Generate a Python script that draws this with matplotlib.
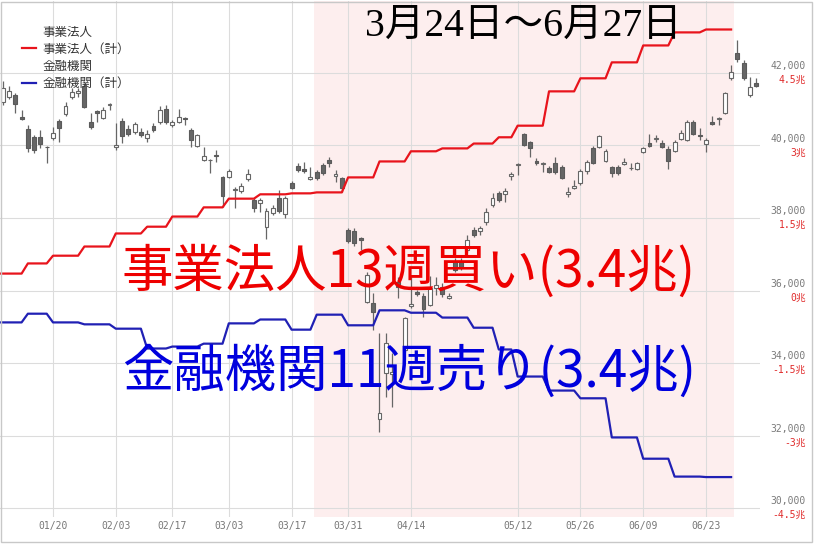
import numpy as np
import pandas as pd
import matplotlib
matplotlib.use("Agg")
import matplotlib.pyplot as plt
from matplotlib.lines import Line2D
from matplotlib.patches import Rectangle

plt.rcParams["font.family"] = ["Noto Sans CJK JP", "DejaVu Sans"]

# Tokyo market days shown (holidays skipped, candles sit on a trading-day index)
jp_holidays = ["2025-01-13", "2025-02-11", "2025-02-24", "2025-03-20",
               "2025-04-29", "2025-05-05", "2025-05-06"]
days = pd.bdate_range("2025-01-06", "2025-07-03", freq="C", holidays=jp_holidays)

# daily candles from 2025-01-07 onward
opens = [41200, 41340, 41390, 40790, 40460, 40240, 40240, 39970, 40210, 40680,
         40870, 41340, 41460, 41640, 40650, 40940, 40760, 41120, 39970, 40680,
         40460, 40370, 40370, 40210, 40540, 40650, 41010, 40570, 40650, 40750,
         40430, 39990, 39600, 39590, 39750, 39130, 39130, 38760, 38750, 39080,
         38500, 38410, 37750, 38140, 38550, 38110, 38970, 39440, 39340, 39080,
         39270, 39460, 39600, 39160, 39100, 37670, 37640, 37450, 35680, 35660,
         32460, 33730, 33710, 36240, 34360, 35570, 35960, 35850, 35600, 36070,
         36100, 35790, 36790, 36790, 37120, 37670, 37640, 37890, 38360, 38690,
         38660, 39170, 39450, 40320, 40100, 39560, 39500, 39380, 39520, 39410,
         38660, 38830, 38970, 39300, 39930, 39960, 39570, 39410, 39410, 39490,
         39370, 39350, 39820, 40070, 40190, 40070, 39900, 39850, 40180, 40150,
         40650, 40280, 40040, 40650, 40720, 40900, 41860, 42550, 42280, 41390,
         41720]
highs = [41780, 41640, 41450, 40980, 40570, 40290, 40430, 39990, 40510, 40730,
         41200, 41590, 41590, 41720, 40900, 40980, 41060, 41170, 40620, 40760,
         40570, 40650, 40480, 40430, 40620, 41090, 41120, 40700, 41010, 40790,
         40480, 40320, 39960, 39630, 39880, 39160, 39350, 38860, 38970, 39350,
         38550, 38550, 38280, 38360, 38770, 38610, 39020, 39520, 39550, 39410,
         39320, 39520, 39680, 39320, 39130, 37720, 37720, 37480, 36510, 35930,
         34830, 34830, 34280, 36370, 35270, 36370, 36010, 35930, 36400, 36370,
         36210, 35930, 36900, 36900, 37530, 37750, 37780, 38280, 38690, 38750,
         38830, 39270, 39520, 40350, 40120, 39660, 39550, 39440, 39680, 39460,
         38860, 39050, 39350, 39600, 39990, 40290, 39900, 39440, 39460, 39660,
         39520, 39550, 39960, 40320, 40290, 40150, 39990, 40150, 40430, 40700,
         40700, 40480, 40210, 40810, 40790, 41480, 42220, 42910, 42360, 41890,
         41860]
lows = [41120, 41280, 40900, 40700, 39820, 39790, 39930, 39520, 40150, 40100,
        40810, 41280, 41340, 41040, 40460, 40650, 40730, 40980, 39880, 40070,
        40260, 40320, 40240, 40100, 40370, 40590, 40590, 40510, 40620, 40570,
        39960, 39960, 39570, 39240, 39550, 38300, 39100, 38280, 38690, 39020,
        38170, 38170, 37420, 38080, 38140, 38000, 38800, 39270, 39240, 39050,
        39050, 39190, 39410, 38990, 38720, 37310, 37230, 37120, 35660, 34910,
        32100, 33060, 32790, 35790, 34300, 35520, 35850, 35270, 35570, 35880,
        35820, 35770, 36510, 36570, 37060, 37480, 37530, 37810, 38300, 38440,
        38440, 39050, 39190, 39990, 39680, 39460, 39270, 39240, 39210, 39080,
        38590, 38800, 38920, 39210, 39490, 39930, 39550, 39130, 39190, 39460,
        39320, 39320, 39790, 39960, 40100, 39930, 39350, 39820, 40150, 40120,
        40290, 40150, 39820, 40570, 40570, 40870, 41810, 42300, 41810, 41340,
        41610]
closes = [41590, 41500, 41150, 40730, 39930, 39880, 40040, 39950, 40350, 40480,
          41090, 41480, 41490, 41060, 40510, 40910, 40980, 41150, 40000, 40260,
          40320, 40590, 40300, 40320, 40430, 40980, 40650, 40650, 40790, 40720,
          40150, 40290, 39710, 39610, 39720, 38610, 39300, 38790, 38880, 39210,
          38280, 38500, 38190, 38280, 38190, 38550, 38830, 39320, 39310, 39130,
          39100, 39240, 39520, 39210, 38830, 37370, 37310, 37390, 36430, 35410,
          32620, 34550, 33740, 36100, 35240, 35630, 35900, 35490, 36070, 36150,
          35900, 35850, 36570, 36650, 37390, 37530, 37720, 38170, 38550, 38500,
          38750, 39200, 39480, 40010, 39930, 39530, 39530, 39270, 39270, 39100,
          38720, 38880, 39300, 39550, 39520, 40260, 39850, 39240, 39240, 39550,
          39390, 39520, 39930, 39990, 40220, 39960, 39570, 40100, 40350, 40650,
          40320, 40250, 40150, 40590, 40750, 41450, 42030, 42390, 41860, 41610,
          41640]

# weekly cumulative net buying, trillion yen (weeks from 2025-01-06 to 2025-06-23)
corp_cum = [0.35, 0.56, 0.72, 0.91, 1.18, 1.32, 1.53, 1.72, 1.90, 1.99, 2.01, 2.03,
            2.34, 2.67, 2.88, 2.94, 3.04, 3.17, 3.41, 4.12, 4.39, 4.72, 5.07, 5.34, 5.40]
fin_cum = [-0.66, -0.48, -0.66, -0.70, -0.79, -1.20, -1.16, -1.10, -0.68, -0.60,
           -0.81, -0.50, -0.72, -0.41, -0.46, -0.56, -0.77, -1.22, -1.78, -2.07,
           -2.23, -3.04, -3.48, -3.85, -3.86]

tick_dates = ["2025-01-20", "2025-02-03", "2025-02-17", "2025-03-03", "2025-03-17",
              "2025-03-31", "2025-04-14", "2025-05-12", "2025-05-26", "2025-06-09",
              "2025-06-23"]
price_ticks = [30000, 32000, 34000, 36000, 38000, 40000, 42000]
cho_labels = ["-4.5兆", "-3兆", "-1.5兆", "0兆", "1.5兆", "3兆", "4.5兆"]
shade_span = ("2025-03-24", "2025-06-27")

idx = np.arange(len(days))
cand_x = idx[1:]
o = np.array(opens); h = np.array(highs); l = np.array(lows); c = np.array(closes)
up = c >= o

week_no = (days - days[0]).days // 7
has_week = week_no < len(corp_cum)
step_x = idx[has_week]
corp_daily = np.array(corp_cum)[week_no[has_week]]
fin_daily = np.array(fin_cum)[week_no[has_week]]

fig = plt.figure(figsize=(8.16, 5.44), dpi=100)
ax = fig.add_axes([0, 27 / 544, 760 / 816, 516 / 544])
ax2 = ax.twinx()

x0, x1 = 0.56, 121.6
ax.set_xlim(x0, x1)
ylo, yhi = 29752, 43986
ax.set_ylim(ylo, yhi)
ax2.set_ylim((ylo - 36000) * 0.00075, (yhi - 36000) * 0.00075)

# shaded window
d_idx = {d.strftime("%Y-%m-%d"): i for i, d in enumerate(days)}
ax.axvspan(d_idx[shade_span[0]] - 0.5, d_idx[shade_span[1]] + 0.5,
           color="#fdeeee", zorder=0, lw=0)

# grid
for p in price_ticks:
    ax.axhline(p, color="#dcdcdc", lw=0.8, zorder=0.5)
for d in tick_dates:
    ax.axvline(d_idx[d], color="#dcdcdc", lw=0.8, zorder=0.5)

# candles
ax.vlines(cand_x, l, h, color="#666666", lw=0.9, zorder=2)
body_lo = np.minimum(o, c)
body_h = np.maximum(np.abs(c - o), 8)
ax.bar(cand_x[up], body_h[up], bottom=body_lo[up], width=0.62,
       color="white", edgecolor="#666666", lw=0.8, zorder=3)
ax.bar(cand_x[~up], body_h[~up], bottom=body_lo[~up], width=0.62,
       color="#666666", edgecolor="#5a5a5a", lw=0.8, zorder=3)

# cumulative flows
ax2.plot(step_x, corp_daily, color="#e8141c", lw=1.6, zorder=4)
ax2.plot(step_x, fin_daily, color="#2020b4", lw=1.6, zorder=4)

ax.set_xticks([d_idx[d] for d in tick_dates])
ax.set_xticklabels([d[5:].replace("-", "/") for d in tick_dates],
                   family="DejaVu Sans Mono", fontsize=7, color="#777777")
ax.tick_params(axis="x", length=0, pad=3)
ax.set_yticks([])
ax2.set_yticks([])
for a in (ax, ax2):
    for s in a.spines.values():
        s.set_visible(False)

# right-hand price / trillion-yen labels
for p, lab in zip(price_ticks, cho_labels):
    ax.annotate(f"{p:,}", xy=(1.0, p), xycoords=("axes fraction", "data"),
                xytext=(33, 5), textcoords="offset points", ha="right", va="center",
                family="DejaVu Sans Mono", fontsize=7, color="#7a7a7a", annotation_clip=False)
    ax.annotate(lab, xy=(1.0, p), xycoords=("axes fraction", "data"),
                xytext=(33, -5), textcoords="offset points", ha="right", va="center",
                family=["DejaVu Sans Mono", "Noto Sans CJK JP"], fontsize=7,
                color="#e02a2a", annotation_clip=False)

handles = [Line2D([], [], color="none"),
           Line2D([], [], color="#e8141c", lw=1.6),
           Line2D([], [], color="none"),
           Line2D([], [], color="#2020b4", lw=1.6)]
labels = ["事業法人", "事業法人（計）", "金融機関", "金融機関（計）"]
leg = ax.legend(handles, labels, loc="upper left", bbox_to_anchor=(0.022, 0.962),
                frameon=False, fontsize=9, handlelength=1.15, handletextpad=0.5,
                labelspacing=0.33, borderaxespad=0)
for t in leg.get_texts():
    t.set_color("#333333")

fig.text(365 / 816, 1 - 26 / 544, "3月24日～6月27日",
         family=["Liberation Serif", "Noto Sans CJK JP"], fontsize=28.5,
         color="black", va="center", ha="left")
fig.text(122 / 816, 1 - 272 / 544, "事業法人13週買い(3.4兆)",
         fontsize=37, color="#ee0000", va="center", ha="left")
fig.text(122 / 816, 1 - 372 / 544, "金融機関11週売り(3.4兆)",
         fontsize=37, color="#0000dd", va="center", ha="left")

fig.patches.append(Rectangle((1 / 816, 2 / 544), 811 / 816, 540 / 544,
                             transform=fig.transFigure, fill=False,
                             edgecolor="#c8c8c8", lw=1))

fig.savefig("out.png", dpi=100)
